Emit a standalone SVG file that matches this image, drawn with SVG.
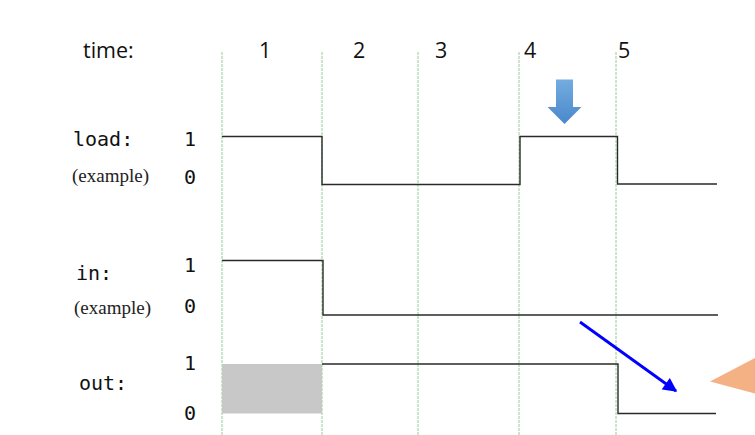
<svg xmlns="http://www.w3.org/2000/svg" width="755" height="435" viewBox="0 0 755 435">
<style>
.grid{stroke:#7fbf7f;stroke-width:0.8;stroke-dasharray:3 1;fill:none}
.sig{stroke:#2a2a2a;stroke-width:1.4;fill:none}
.lbl{font-family:"DejaVu Sans Mono","Liberation Mono",monospace;font-size:20px;fill:#111}
.ex{font-family:"Liberation Serif","Times New Roman",serif;font-size:19px;fill:#222}
.tm{font-family:"Open Sans","Liberation Sans",sans-serif;font-size:21.5px;fill:#111}
</style>
<defs>
<linearGradient id="bg" x1="0" y1="0" x2="0" y2="1">
<stop offset="0" stop-color="#74acdf"/>
<stop offset="1" stop-color="#4a88cc"/>
</linearGradient>
<marker id="ah" viewBox="0 0 10 10" refX="9" refY="5" markerWidth="15" markerHeight="14" markerUnits="userSpaceOnUse" orient="auto">
<path d="M0,0 L10,5 L0,10 z" fill="#0000ff"/>
</marker>
</defs>
<rect width="755" height="435" fill="#ffffff"/>
<g id="grid">
<line class="grid" x1="222" y1="52" x2="222" y2="435"/>
<line class="grid" x1="322" y1="52" x2="322" y2="435"/>
<line class="grid" x1="418" y1="52" x2="418" y2="435"/>
<line class="grid" x1="519" y1="52" x2="519" y2="435"/>
<line class="grid" x1="616" y1="52" x2="616" y2="435"/>
</g>
<g id="time-row">
<text class="tm" x="83" y="57.5">time:</text>
<text class="tm" x="259" y="57.5">1</text>
<text class="tm" x="353" y="57.5">2</text>
<text class="tm" x="435" y="57.5">3</text>
<text class="tm" x="524" y="57.5">4</text>
<text class="tm" x="618" y="57.5">5</text>
</g>
<g id="load">
<text class="lbl" x="73" y="145.5">load:</text>
<text class="ex" x="72" y="182">(example)</text>
<text class="lbl" x="184" y="145.5">1</text>
<text class="lbl" x="184" y="184">0</text>
<path class="sig" d="M222,136.5 H322 V184.5 H520 V136.5 H617.5 V184 H717"/>
</g>
<g id="in">
<text class="lbl" x="76" y="280">in:</text>
<text class="ex" x="74" y="314">(example)</text>
<text class="lbl" x="184" y="272">1</text>
<text class="lbl" x="184" y="312.5">0</text>
<path class="sig" d="M222,260.5 H323 V315 H718"/>
</g>
<g id="out">
<text class="lbl" x="79" y="390">out:</text>
<text class="lbl" x="184" y="370">1</text>
<text class="lbl" x="184" y="419.5">0</text>
<rect x="222" y="364" width="100" height="49.5" fill="#c8c8c8"/>
<path class="sig" d="M322,364 H618 V413.5 H716"/>
</g>
<g id="down-arrow">
<path d="M556,79.5 H573 V107 H581.5 L564.5,124 L547.5,107 H556 Z" fill="url(#bg)"/>
</g>
<g id="connectors">
<line x1="580" y1="322" x2="676" y2="391" stroke="#0000ff" stroke-width="2.8" marker-end="url(#ah)"/>
</g>
<g id="callout">
<polygon points="710,381.5 755,358 755,393.5" fill="#f4b183"/>
</g>
</svg>
